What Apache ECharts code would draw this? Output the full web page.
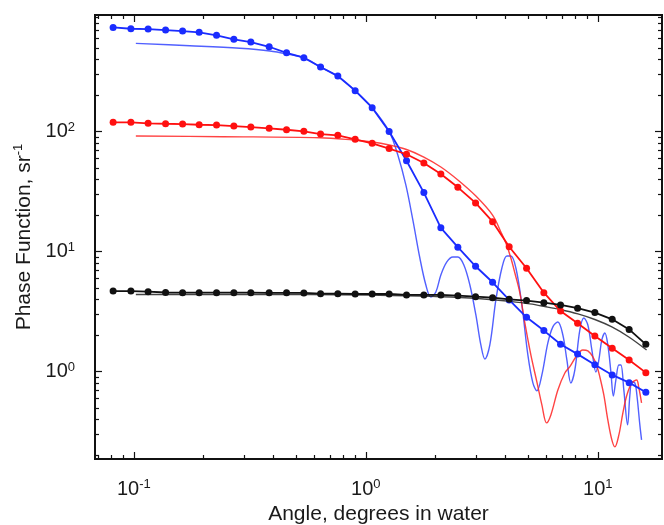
<!DOCTYPE html>
<html>
<head>
<meta charset="utf-8">
<script src="https://cdn.jsdelivr.net/npm/echarts@6/dist/echarts.min.js"></script>
<style>
html,body{margin:0;padding:0;background:#fff;}
#chart{width:664px;height:525px;}
</style>
</head>
<body>
<div id="chart"></div>
<script>
// ---- Data ----
const angles = [0.0814, 0.0971, 0.1152, 0.1370, 0.1622, 0.1912, 0.2272, 0.2698, 0.3193, 0.3830,
  0.4551, 0.5404, 0.6379, 0.7572, 0.8993, 1.0646, 1.2600, 1.4972, 1.7783, 2.105,
  2.492, 2.971, 3.517, 4.147, 4.928, 5.851, 6.905, 8.176, 9.707, 11.53, 13.64, 16.10];

const blueMeasured = [741, 722, 718, 704, 691, 674, 636, 589, 559, 511,
  455, 414, 346, 291, 220, 158.5, 100.4, 57.3, 31.1, 15.8,
  10.9, 7.56, 5.56, 3.96, 2.84, 2.20, 1.69, 1.40, 1.14, 0.939, 0.810, 0.674];

const redMeasured = [119.8, 119.8, 117.5, 116.6, 115.9, 114.4, 113.7, 111.5, 109.4, 106.7,
  103.9, 100.8, 95.7, 93.3, 86.4, 80.1, 72.4, 64.9, 54.8, 44.4,
  34.4, 25.5, 17.8, 11.0, 7.27, 4.55, 3.20, 2.53, 1.98, 1.57, 1.25, 0.981];

const blackMeasured = [4.70, 4.70, 4.64, 4.57, 4.55, 4.55, 4.55, 4.55, 4.55, 4.54,
  4.54, 4.53, 4.47, 4.47, 4.44, 4.44, 4.44, 4.36, 4.36, 4.36,
  4.30, 4.22, 4.14, 4.01, 3.91, 3.76, 3.60, 3.38, 3.11, 2.73, 2.25, 1.69];

const blueTheoryAngle = [0.1020, 0.1743, 0.2863, 0.3857, 0.4703, 0.5404, 0.6379, 0.7572, 0.8993, 1.0646,
  1.2600, 1.3735, 1.487, 1.594, 1.709, 1.814, 1.906, 2.003, 2.105, 2.234,
  2.371, 2.492, 2.645, 2.808, 2.980, 3.131, 3.258, 3.423, 3.634, 3.857,
  4.054, 4.217, 4.433, 4.704, 4.992, 5.247, 5.459, 5.737, 6.088, 6.397,
  6.724, 7.065, 7.352, 7.649, 7.959, 8.364, 8.703, 9.055, 9.422, 9.804,
  10.10, 10.40, 10.72, 11.04, 11.38, 11.66, 11.96, 12.32, 12.57, 12.94,
  13.43, 13.74, 14.02, 14.44, 14.73, 15.17, 15.43];
const blueTheory = [545, 521, 496, 471, 440, 414, 346, 291, 220, 158.5,
  100.4, 63.9, 36.0, 18.4, 8.86, 5.28, 4.19, 4.61, 6.40, 8.21,
  9.03, 9.03, 7.75, 5.28, 2.97, 1.67, 1.276, 1.67, 3.96, 7.31,
  9.21, 9.21, 7.31, 3.60, 1.378, 0.805, 0.691, 0.939, 1.735, 2.36,
  2.596, 2.022, 1.252, 0.805, 1.033, 2.226, 2.80, 2.45, 1.516, 0.994,
  1.252, 1.837, 2.10, 1.67, 0.994, 0.627, 0.853, 1.137, 1.137, 0.704,
  0.360, 0.639, 0.821, 0.805, 0.639, 0.360, 0.270];

const redTheoryAngle = [0.1020, 0.2419, 0.6336, 0.879, 1.0646, 1.26, 1.497, 1.778, 2.105, 2.492,
  2.980, 3.517, 3.819, 4.013, 4.217, 4.388, 4.611, 4.845, 5.143, 5.459,
  5.737, 6.010, 6.273, 6.724, 7.207, 7.573, 8.04, 8.615, 9.055, 9.516,
  9.902, 10.20, 10.61, 11.04, 11.49, 11.84, 12.32, 12.82, 13.34, 14.02,
  14.69, 15.02, 15.43];
const redTheory = [92.1, 90.9, 89.1, 85.3, 82.1, 77.5, 71.1, 61.5, 50.8, 39.6,
  29.1, 20.2, 14.6, 11.8, 8.86, 6.64, 4.53, 2.545, 1.378, 0.821,
  0.528, 0.374, 0.436, 0.704, 0.975, 1.10, 1.326, 1.516, 1.488, 1.326,
  1.115, 0.903, 0.639, 0.396, 0.270, 0.236, 0.297, 0.453, 0.639, 0.805,
  0.853, 0.731, 0.548];

const blackTheoryAngle = [0.102, 0.3162, 1.040, 1.709, 2.543, 3.423, 4.175, 5.092, 5.908, 6.860,
  8.202, 9.707, 11.49, 13.60, 16.22];
const blackTheory = [4.40, 4.40, 4.36, 4.27, 4.15, 4.00, 3.85, 3.67, 3.49, 3.30,
  3.03, 2.72, 2.36, 1.946, 1.516];

const xMajor = [0.1, 1, 10];
const xMinor = [0.07, 0.08, 0.09, 0.2, 0.3, 0.4, 0.5, 0.6, 0.7, 0.8, 0.9, 2, 3, 4, 5, 6, 7, 8, 9];
const yMajor = [1, 10, 100];
const yMinor = [0.2, 0.3, 0.4, 0.5, 0.6, 0.7, 0.8, 0.9, 2, 3, 4, 5, 6, 7, 8, 9,
  20, 30, 40, 50, 60, 70, 80, 90, 200, 300, 400, 500, 600, 700, 800, 900];

const xRange = [0.068, 18.9];
const yRange = [0.187, 940];

// ---- Chart ----
const FONT = '"Liberation Sans", Arial, sans-serif';
const pair = (xs, ys) => xs.map((x, i) => [x, ys[i]]);
const powLabel = v => '{b|10}{s|' + Math.round(Math.log10(v)) + '}';
const richLbl = {
  b: {fontSize: 20, fontFamily: FONT, color: '#1a1a1a', lineHeight: 22},
  s: {fontSize: 13, fontFamily: FONT, color: '#1a1a1a', lineHeight: 13, verticalAlign: 'top'}
};
const axisLine = {show: true, onZero: false, lineStyle: {color: '#111', width: 2}};

function xAx(pos, major, showLabel) {
  return {
    type: 'log', position: pos, min: xRange[0], max: xRange[1],
    axisLine: axisLine, splitLine: {show: false}, minorTick: {show: false},
    axisTick: {show: true, inside: true, length: major ? 7 : 4,
      customValues: major ? xMajor : xMinor, lineStyle: {color: '#111', width: 1.2}},
    axisLabel: showLabel ? {show: true, customValues: xMajor, formatter: powLabel,
      margin: 19, rich: richLbl} : {show: false},
    name: showLabel ? 'Angle, degrees in water' : '',
    nameLocation: 'middle', nameGap: 45,
    nameTextStyle: {fontSize: 21, fontFamily: FONT, color: '#1a1a1a'}
  };
}
function yAx(pos, major, showLabel) {
  return {
    type: 'log', position: pos, min: yRange[0], max: yRange[1],
    axisLine: axisLine, splitLine: {show: false}, minorTick: {show: false},
    axisTick: {show: true, inside: true, length: major ? 7 : 4,
      customValues: major ? yMajor : yMinor, lineStyle: {color: '#111', width: 1.2}},
    axisLabel: showLabel ? {show: true, customValues: yMajor, formatter: powLabel,
      margin: 20, rich: richLbl} : {show: false},
    name: showLabel ? '{n|Phase Function, sr}{s|-1}' : '',
    nameLocation: 'middle', nameGap: 58, nameRotate: 90,
    nameTextStyle: {rich: {
      n: {fontSize: 21, fontFamily: FONT, color: '#1a1a1a', lineHeight: 24},
      s: {fontSize: 13, fontFamily: FONT, color: '#1a1a1a', lineHeight: 13, verticalAlign: 'top'}
    }}
  };
}

function theory(name, xs, ys, color) {
  return {name, type: 'line', xAxisIndex: 0, yAxisIndex: 0, data: pair(xs, ys),
    showSymbol: false, symbol: 'none', smooth: 0.35, z: 2,
    lineStyle: {color, width: 1.4, opacity: 0.85}};
}
function measured(name, ys, color) {
  return {name, type: 'line', xAxisIndex: 0, yAxisIndex: 0, data: pair(angles, ys),
    symbol: 'circle', symbolSize: 7, z: 3,
    itemStyle: {color}, lineStyle: {color, width: 1.8}};
}

const chart = echarts.init(document.getElementById('chart'), null, {renderer: 'canvas'});
chart.setOption({
  backgroundColor: '#ffffff',
  animation: false,
  grid: {left: 95, top: 15, right: 2, bottom: 66, containLabel: false, outerBoundsMode: 'none'},
  xAxis: [xAx('bottom', true, true), xAx('bottom', false, false), xAx('top', true, false), xAx('top', false, false)],
  yAxis: [yAx('left', true, true), yAx('left', false, false), yAx('right', true, false), yAx('right', false, false)],
  series: [
    theory('Blue theory', blueTheoryAngle, blueTheory, '#3344ff'),
    theory('Red theory', redTheoryAngle, redTheory, '#ff2222'),
    theory('Black theory', blackTheoryAngle, blackTheory, '#222222'),
    measured('Blue measured', blueMeasured, '#1a2cff'),
    measured('Red measured', redMeasured, '#ff1010'),
    measured('Black measured', blackMeasured, '#111111')
  ]
});
</script>
</body>
</html>
